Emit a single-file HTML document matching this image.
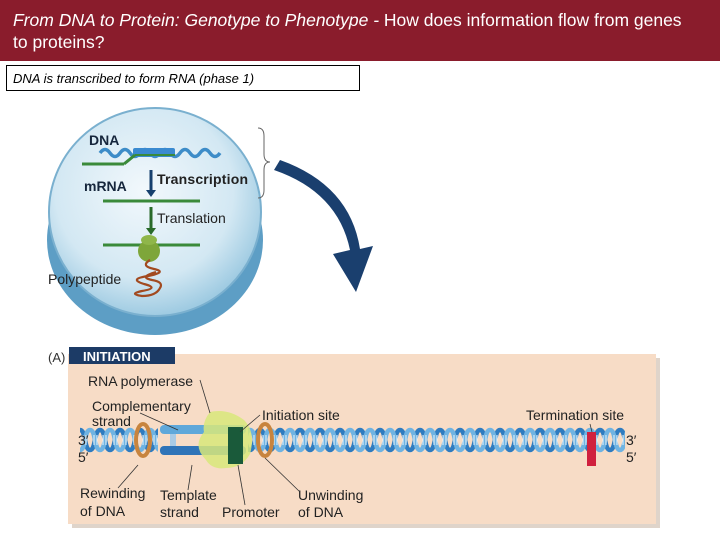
<!DOCTYPE html>
<html><head><style>
body{margin:0;width:720px;height:540px;background:#fff;overflow:hidden;font-family:"Liberation Sans",sans-serif;position:relative}
#hdr{position:absolute;left:0;top:0;width:720px;height:61px;background:#8a1c2c;color:#fff;font-size:17.5px;line-height:22px;padding:9px 22px 0 13px;box-sizing:border-box}
#box{position:absolute;left:6px;top:65px;width:354px;height:26px;border:1px solid #000;font-size:13px;font-style:italic;line-height:25px;padding-left:6px;box-sizing:border-box}
svg{position:absolute;left:0;top:0}
</style></head><body>
<div id="hdr"><i>From DNA to Protein: Genotype to Phenotype - </i>How does information flow from genes to proteins?</div>
<div id="box">DNA is transcribed to form RNA (phase 1)</div>
<svg width="720" height="540" font-family="Liberation Sans, sans-serif">
<defs>
<radialGradient id="cg" cx="0.45" cy="0.4" r="0.6"><stop offset="0" stop-color="#f2f8fc"/><stop offset="0.7" stop-color="#d3e8f3"/><stop offset="1" stop-color="#9fcbe2"/></radialGradient>
<pattern id="hx" width="20" height="28" patternUnits="userSpaceOnUse" x="80" y="426">
<path d="M0,4 C6,4 4,24 10,24 C16,24 14,4 20,4" stroke="#2f7cc0" stroke-width="4.5" fill="none"/>
<path d="M0,24 C6,24 4,4 10,4 C16,4 14,24 20,24" stroke="#6fb3e2" stroke-width="4.5" fill="none"/>
<g stroke="#e8f4fc" stroke-width="1"><line x1="3" y1="9" x2="3" y2="19"/><line x1="6" y1="9" x2="6" y2="19"/><line x1="14" y1="9" x2="14" y2="19"/><line x1="17" y1="9" x2="17" y2="19"/></g>
</pattern>
</defs>
<ellipse cx="155" cy="240" rx="108" ry="95" fill="#5d9ec5"/>
<ellipse cx="155" cy="212" rx="106" ry="104" fill="url(#cg)" stroke="#7ab0cf" stroke-width="2"/>
<text x="89" y="145" font-size="14" font-weight="bold" fill="#16263c">DNA</text>
<path d="M100,153 q5,-7 10,0 t10,0 t10,0 t10,0 t10,0 t10,0 t10,0 t10,0 t10,0 t10,0 t10,0 t10,0" stroke="#3d8cc8" stroke-width="3.5" fill="none"/>
<rect x="133" y="148" width="42" height="9" fill="#3a8ad0" rx="2"/>
<line x1="82" y1="164" x2="124" y2="164" stroke="#3a8a3a" stroke-width="3"/>
<line x1="124" y1="164" x2="135" y2="155" stroke="#3a8a3a" stroke-width="3"/>
<line x1="135" y1="155" x2="175" y2="155" stroke="#3a8a3a" stroke-width="2"/>
<line x1="151" y1="170" x2="151" y2="193" stroke="#16406e" stroke-width="3"/><path d="M146,190 l5,7 l5,-7z" fill="#16406e"/>
<text x="157" y="184" font-size="14" font-weight="bold" fill="#222" textLength="91">Transcription</text>
<text x="84" y="191" font-size="14" font-weight="bold" fill="#16263c">mRNA</text>
<line x1="103" y1="201" x2="200" y2="201" stroke="#3a8a3a" stroke-width="3"/>
<line x1="151" y1="207" x2="151" y2="230" stroke="#2a6a2a" stroke-width="3"/><path d="M146,228 l5,7 l5,-7z" fill="#2a6a2a"/>
<text x="157" y="223" font-size="14" fill="#222">Translation</text>
<line x1="103" y1="245" x2="200" y2="245" stroke="#3a8a3a" stroke-width="3"/>
<circle cx="149" cy="251" r="11" fill="#7ea63a"/><ellipse cx="149" cy="240" rx="8" ry="5" fill="#8fb64a"/>
<path d="M150,260 q-10,6 4,9 q14,3 -6,7 q-20,3 -4,8 q16,4 -2,7 q-14,3 0,5 q14,0 18,-8 q4,-6 -8,-8 q-14,-3 4,-8" stroke="#a24a20" stroke-width="2.2" fill="none"/>
<text x="48" y="284" font-size="14" fill="#222">Polypeptide</text>
<path d="M258,128 q6,0 6,8 v18 q0,8 6,8 q-6,0 -6,8 v20 q0,8 -6,8" stroke="#666" stroke-width="1" fill="none"/>
<path d="M274,170 Q338,192 350,250 L333,254 L356,292 L373,246 L360,249 Q350,185 280,160 Z" fill="#1a3f6e"/>
<rect x="72" y="358" width="588" height="170" fill="#c9b8a6" opacity="0.6"/>
<rect x="68" y="354" width="588" height="170" fill="#f7dcc6"/>
<text x="48" y="362" font-size="13" fill="#333">(A)</text>
<rect x="69" y="347" width="106" height="17" fill="#1c3b66"/>
<text x="83" y="361" font-size="13" font-weight="bold" fill="#fff">INITIATION</text>
<rect x="80" y="426" width="545" height="28" fill="url(#hx)"/>
<rect x="158" y="425" width="90" height="31" fill="#f7dcc6"/>
<rect x="160" y="425" width="86" height="9" rx="4" fill="#5fa8da"/>
<rect x="160" y="446" width="86" height="9" rx="4" fill="#2f74b8"/>
<rect x="170" y="434" width="6" height="12" fill="#a9cbe6"/>
<path d="M210,412 q-8,10 -6,20 q-12,14 2,28 q6,10 20,8 q16,0 24,-14 q6,-22 -6,-34 q-16,-12 -34,-8z" fill="#d8e87a" opacity="0.85"/>
<rect x="228" y="427" width="15" height="37" fill="#1a5a3a"/>
<ellipse cx="143" cy="440" rx="7" ry="16" fill="none" stroke="#c8843e" stroke-width="4"/>
<ellipse cx="265" cy="440" rx="7" ry="16" fill="none" stroke="#c8843e" stroke-width="4"/>
<rect x="587" y="432" width="9" height="34" fill="#d0203e"/>
<g font-size="14" fill="#222">
<text x="78" y="445">3′</text><text x="78" y="462">5′</text>
<text x="626" y="445">3′</text><text x="626" y="462">5′</text>
<text x="88" y="386">RNA polymerase</text>
<text x="92" y="411">Complementary</text><text x="92" y="426">strand</text>
<text x="262" y="420">Initiation site</text>
<text x="526" y="420">Termination site</text>
<text x="80" y="498">Rewinding</text><text x="80" y="516">of DNA</text>
<text x="160" y="500">Template</text><text x="160" y="517">strand</text>
<text x="222" y="517">Promoter</text>
<text x="298" y="500">Unwinding</text><text x="298" y="517">of DNA</text>
</g>
<g stroke="#333" stroke-width="0.8" fill="none">
<path d="M200,380 L210,413"/><path d="M140,413 L178,430"/><path d="M260,415 L240,432"/>
<path d="M590,424 L592,432"/><path d="M138,465 L118,488"/><path d="M192,465 L188,490"/>
<path d="M238,465 L245,505"/><path d="M265,458 L300,492"/>
</g>
</svg>
</body></html>
